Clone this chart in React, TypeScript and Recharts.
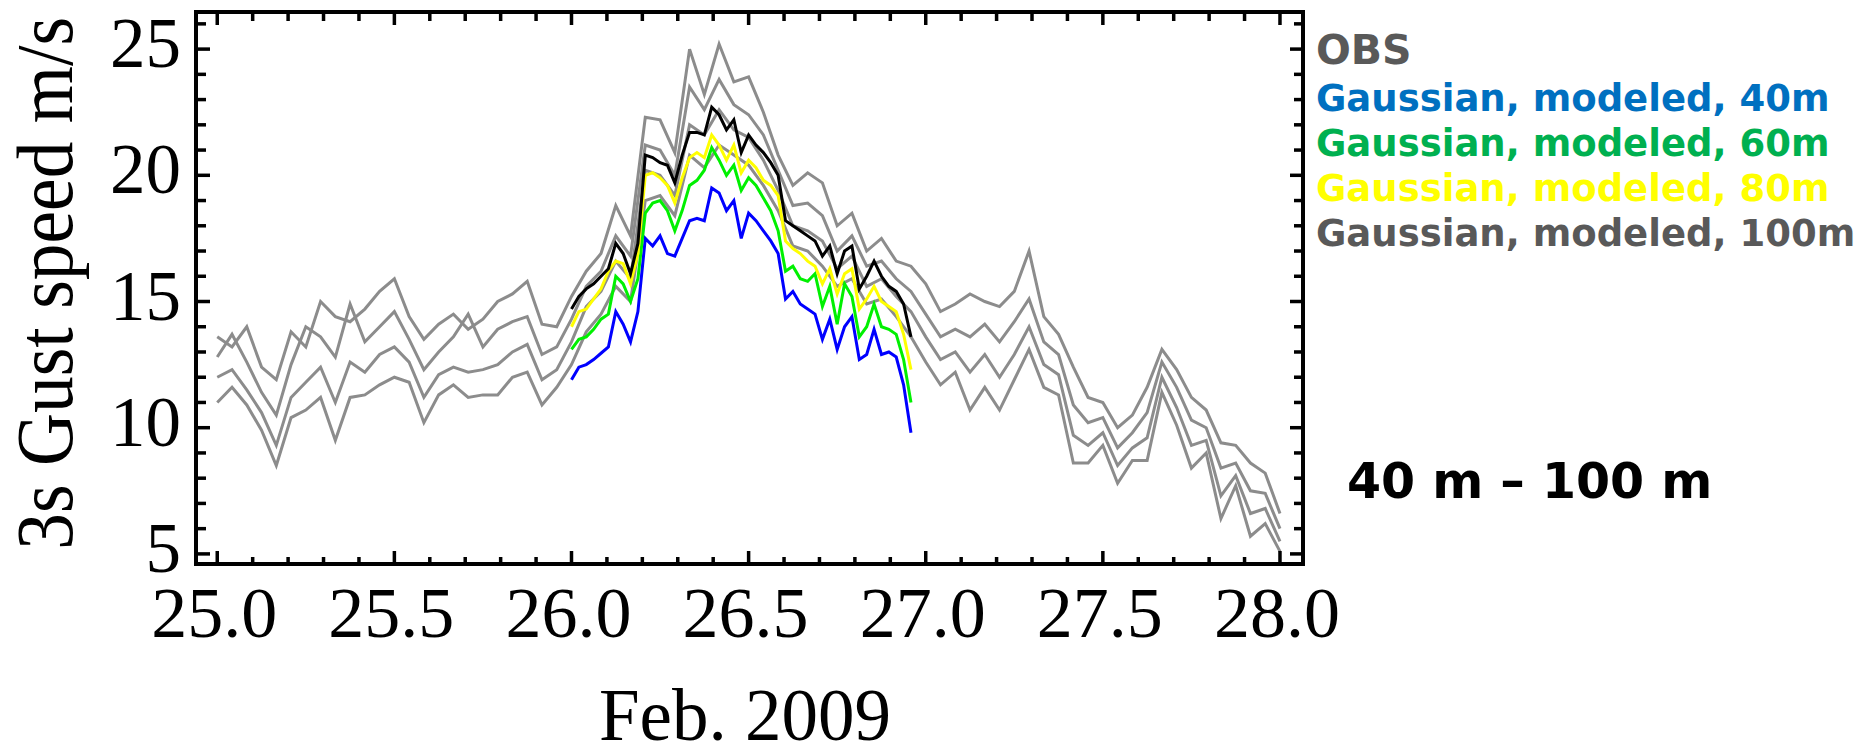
import React from "react";
import { LineChart, Line, XAxis, YAxis, ReferenceArea } from "recharts";

// x positions: days of Feb. 2009
const obsStart = 25;
const obsStepDays = 1 / 24; // hourly observations
const modelStart = 26;
const modelStepDays = 1 / 48; // half-hourly model output

const obs40 = [13.6, 13.2, 14.0, 12.4, 11.9, 13.8, 13.2, 15.0, 14.4, 14.2, 14.7, 15.4, 15.9, 14.4, 13.5, 14.1, 14.5, 13.9, 14.3, 15.0, 15.3, 15.8, 14.1, 14.0, 15.2, 16.2, 16.9, 18.8, 17.6, 22.3, 22.2, 20.9, 25.0, 23.2, 25.2, 23.7, 23.9, 22.5, 20.8, 19.6, 20.1, 19.7, 18.0, 18.5, 17.0, 17.5, 16.6, 16.4, 15.7, 14.6, 14.9, 15.3, 15.0, 14.8, 15.4, 17.0, 14.4, 13.7, 12.4, 11.2, 11.0, 10.0, 10.5, 11.6, 13.1, 12.3, 11.2, 10.7, 9.4, 9.3, 8.6, 8.2, 6.6];
const obs60 = [12.8, 13.7, 12.6, 11.4, 10.5, 12.5, 14.0, 13.6, 12.8, 14.9, 13.4, 14.0, 14.6, 13.5, 12.3, 13.0, 13.6, 14.5, 13.2, 13.9, 14.2, 14.4, 12.9, 13.2, 14.3, 15.6, 16.2, 17.6, 16.8, 21.2, 21.0, 20.0, 23.5, 22.6, 23.8, 22.8, 22.4, 21.6, 20.2, 18.8, 18.9, 18.4, 17.0, 17.6, 16.4, 16.6, 15.9, 15.4, 14.5, 13.6, 13.9, 13.6, 14.1, 13.4, 14.2, 15.1, 13.4, 12.9, 10.9, 10.2, 10.4, 9.2, 9.8, 10.6, 12.6, 11.6, 10.3, 10.0, 8.4, 8.6, 7.5, 7.4, 6.0];
const obs80 = [12.0, 12.3, 11.5, 10.6, 9.3, 11.2, 11.8, 12.4, 11.0, 12.6, 12.2, 12.9, 13.2, 12.6, 11.2, 12.1, 12.4, 12.2, 12.3, 12.5, 13.0, 13.3, 11.9, 12.3, 13.4, 14.8, 15.4, 16.6, 15.9, 20.2, 20.0, 19.2, 22.0, 21.6, 22.6, 21.8, 21.5, 20.6, 19.4, 18.0, 17.8, 17.4, 16.3, 16.8, 15.6, 15.9, 15.2, 14.6, 13.6, 12.7, 13.0, 12.2, 12.9, 12.0, 12.9, 14.0, 12.5, 12.1, 9.7, 9.3, 9.8, 8.5, 9.2, 9.6, 12.0, 10.8, 9.3, 9.5, 7.3, 8.1, 6.6, 6.8, 5.5];
const obs100 = [11.0, 11.6, 10.9, 9.9, 8.5, 10.4, 10.7, 11.2, 9.5, 11.2, 11.3, 11.7, 12.0, 11.8, 10.2, 11.3, 11.7, 11.2, 11.3, 11.3, 12.0, 12.2, 10.9, 11.6, 12.5, 13.8, 14.5, 15.6, 15.0, 19.0, 19.2, 18.4, 20.8, 20.3, 21.2, 20.8, 20.4, 19.6, 18.6, 17.2, 17.0, 16.4, 15.6, 15.9, 14.9, 15.1, 14.4, 13.6, 12.6, 11.7, 12.2, 10.7, 11.6, 10.7, 11.9, 13.1, 11.6, 11.3, 8.6, 8.6, 9.3, 7.8, 8.7, 8.7, 11.4, 10.1, 8.4, 9.0, 6.4, 7.7, 5.7, 6.2, 5.1];

const model40 = [11.9, 12.4, 12.5, 12.7, 12.95, 13.2, 14.6, 14.1, 13.4, 14.6, 17.5, 17.2, 17.6, 16.9, 16.8, 17.5, 18.2, 18.3, 18.2, 19.5, 19.3, 18.6, 19.0, 17.5, 18.5, 18.2, 17.8, 17.4, 16.9, 15.1, 15.4, 14.9, 14.7, 14.5, 13.5, 14.3, 13.1, 14.0, 14.4, 12.7, 12.9, 13.9, 12.9, 13.0, 12.8, 11.7, 9.8];
const model60 = [13.1, 13.5, 13.6, 13.9, 14.3, 14.5, 16.0, 15.7, 15.0, 15.9, 18.5, 18.9, 19.0, 18.6, 17.8, 18.6, 19.6, 19.8, 20.2, 21.1, 20.6, 20.0, 20.4, 19.4, 19.9, 19.6, 19.1, 18.6, 17.8, 16.2, 16.4, 15.9, 15.8, 16.1, 14.8, 15.6, 14.1, 15.7, 15.2, 13.6, 14.0, 14.9, 14.0, 13.9, 13.7, 12.7, 11.0];
const model80 = [14.0, 14.6, 14.7, 15.1, 15.5, 16.2, 16.6, 16.5, 15.7, 16.9, 20.0, 20.1, 19.9, 19.6, 18.9, 19.9, 20.7, 20.9, 20.7, 21.6, 21.2, 20.6, 21.2, 20.1, 20.6, 20.3, 19.8, 19.6, 19.2, 17.4, 17.1, 16.9, 16.6, 16.4, 15.7, 16.3, 15.3, 16.1, 16.3, 14.7, 15.1, 15.6, 15.0, 14.8, 14.6, 13.7, 12.3];
const model100 = [14.7, 15.2, 15.5, 15.7, 16.0, 16.3, 17.3, 16.9, 16.1, 17.3, 20.8, 20.7, 20.5, 20.4, 19.7, 20.8, 21.7, 21.7, 21.6, 22.7, 22.4, 21.8, 22.2, 20.9, 21.6, 21.2, 20.9, 20.5, 20.0, 18.2, 18.0, 17.8, 17.6, 17.4, 16.8, 17.2, 16.1, 17.0, 17.2, 15.5, 16.0, 16.6, 16.0, 15.6, 15.4, 14.9, 13.6];

const xTicks = [25, 25.1, 25.2, 25.3, 25.4, 25.5, 25.6, 25.7, 25.8, 25.9, 26, 26.1, 26.2, 26.3, 26.4, 26.5, 26.6, 26.7, 26.8, 26.9, 27, 27.1, 27.2, 27.3, 27.4, 27.5, 27.6, 27.7, 27.8, 27.9, 28];
const yTicks = [5, 6, 7, 8, 9, 10, 11, 12, 13, 14, 15, 16, 17, 18, 19, 20, 21, 22, 23, 24, 25, 26];
const xDomain: [number, number] = [24.94, 28.065];
const yDomain: [number, number] = [4.6, 26.47];

const legendItems = [
  { label: "Gaussian, modeled, 40m", color: "#0070C0" },
  { label: "Gaussian, modeled, 60m", color: "#00B050" },
  { label: "Gaussian, modeled, 80m", color: "#FFFF00" },
  { label: "Gaussian, modeled, 100m", color: "#595959" },
];

const toSeries = (start: number, step: number, vals: number[]) =>
  vals.map((v, i) => ({ t: start + i * step, v }));

const obsSeries = [obs40, obs60, obs80, obs100].map((s) => toSeries(obsStart, obsStepDays, s));
const modelSeries = [
  { data: toSeries(modelStart, modelStepDays, model40), color: "#0000FF" },
  { data: toSeries(modelStart, modelStepDays, model60), color: "#00F000" },
  { data: toSeries(modelStart, modelStepDays, model80), color: "#FFFF00" },
  { data: toSeries(modelStart, modelStepDays, model100), color: "#000000" },
];

const SERIF = "'Liberation Serif', 'Times New Roman', serif";
const SANS = "'DejaVu Sans', Verdana, sans-serif";

const isMajorX = (v: number) => Math.abs(v * 2 - Math.round(v * 2)) < 1e-6;
const isMajorY = (v: number) => Math.abs(v / 5 - Math.round(v / 5)) < 1e-6;

const BottomTick = (props: any) => {
  const { x, y, payload } = props;
  const major = isMajorX(payload.value);
  return (
    <g>
      <line x1={x} x2={x} y1={y} y2={y - (major ? 13 : 7)} stroke="#000" strokeWidth={3.5} />
      {major && (
        <text x={x - 3} y={y + 73} textAnchor="middle" fontFamily={SERIF} fontSize={72} fill="#000">
          {payload.value.toFixed(1)}
        </text>
      )}
    </g>
  );
};

const TopTick = (props: any) => {
  const { x, y, payload } = props;
  const major = isMajorX(payload.value);
  return <line x1={x} x2={x} y1={y} y2={y + (major ? 13 : 9)} stroke="#000" strokeWidth={3.5} />;
};

const LeftTick = (props: any) => {
  const { x, y, payload } = props;
  const major = isMajorY(payload.value);
  return (
    <g>
      <line x1={x} x2={x + (major ? 14 : 10)} y1={y} y2={y} stroke="#000" strokeWidth={3.5} />
      {major && (
        <text x={x - 15} y={y + 18} textAnchor="end" fontFamily={SERIF} fontSize={71} fill="#000">
          {payload.value}
        </text>
      )}
    </g>
  );
};

const RightTick = (props: any) => {
  const { x, y, payload } = props;
  const major = isMajorY(payload.value);
  return <line x1={x} x2={x - (major ? 13 : 9)} y1={y} y2={y} stroke="#000" strokeWidth={3.5} />;
};

const axisCommon = {
  type: "number" as const,
  allowDataOverflow: true,
  interval: 0 as const,
  tickSize: 0,
  tickMargin: 0,
  tickLine: false,
  axisLine: false,
};

export default function App() {
  return (
    <div style={{ position: "absolute", left: 0, top: 0, width: 1866, height: 745, background: "#fff" }}>
      <LineChart width={1866} height={745} margin={{ top: 11, right: 562, bottom: 180, left: 195 }}>
        <XAxis xAxisId="b" dataKey="t" domain={xDomain} ticks={xTicks} height={1} tick={<BottomTick />} {...axisCommon} />
        <XAxis
          xAxisId="t"
          orientation="top"
          dataKey="t"
          domain={xDomain}
          ticks={xTicks}
          height={1}
          tick={<TopTick />}
          {...axisCommon}
        />
        <YAxis yAxisId="l" domain={yDomain} ticks={yTicks} width={1} tick={<LeftTick />} {...axisCommon} />
        <YAxis
          yAxisId="r"
          orientation="right"
          domain={yDomain}
          ticks={yTicks}
          width={1}
          tick={<RightTick />}
          {...axisCommon}
        />
        {obsSeries.map((d, i) => (
          <Line
            key={"obs" + i}
            xAxisId="b"
            yAxisId="l"
            data={d}
            dataKey="v"
            type="linear"
            stroke="#8c8c8c"
            strokeWidth={3}
            dot={false}
            activeDot={false}
            isAnimationActive={false}
          />
        ))}
        {modelSeries.map((s, i) => (
          <Line
            key={"m" + i}
            xAxisId="b"
            yAxisId="l"
            data={s.data}
            dataKey="v"
            type="linear"
            stroke={s.color}
            strokeWidth={3}
            dot={false}
            activeDot={false}
            isAnimationActive={false}
          />
        ))}
        <ReferenceArea
          xAxisId="b"
          yAxisId="l"
          x1={xDomain[0]}
          x2={xDomain[1]}
          y1={yDomain[0]}
          y2={yDomain[1]}
          fill="none"
          fillOpacity={0}
          stroke="#000"
          strokeWidth={4}
          ifOverflow="visible"
        />
      </LineChart>
      <svg
        width={1866}
        height={745}
        style={{ position: "absolute", left: 0, top: 0, pointerEvents: "none" }}
      >
        <text
          transform="translate(72,283.4) rotate(-90) scale(1,1.08)"
          textAnchor="middle"
          fontFamily={SERIF}
          fontSize={73.5}
          fill="#000"
        >
          3s Gust speed m/s
        </text>
        <text x={745} y={740} textAnchor="middle" fontFamily={SERIF} fontSize={73} fill="#000">
          Feb. 2009
        </text>
        <text x={1316} y={64} fontFamily={SANS} fontWeight="bold" fontSize={41} fill="#595959">
          OBS
        </text>
        {legendItems.map((it, i) => (
          <text
            key={it.label}
            x={1316}
            y={111 + i * 45}
            fontFamily={SANS}
            fontWeight="bold"
            fontSize={37}
            fill={it.color}
          >
            {it.label}
          </text>
        ))}
        <text x={1347} y={498} fontFamily={SANS} fontWeight="bold" fontSize={49} fill="#000">
          40 m – 100 m
        </text>
      </svg>
    </div>
  );
}
